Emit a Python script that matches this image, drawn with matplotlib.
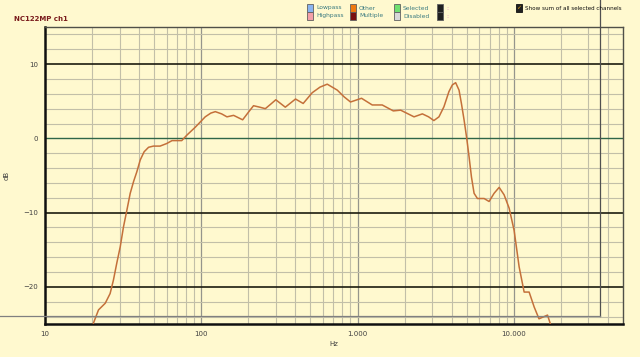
import matplotlib
matplotlib.use("Agg")
import matplotlib.pyplot as plt
from matplotlib.lines import Line2D
from matplotlib.patches import Rectangle

# response (Hz, dB)
freq_hz = [20.4, 22, 24.3, 26.1, 27.4, 28.8, 30.3, 31.8, 33.4, 35.1, 36.9, 38.7, 40.7, 43.1,
           46, 49.4, 54.5, 60, 65, 75, 81, 91.5, 106, 115, 123, 135, 146, 161, 184, 200, 216,
           237, 257, 278, 300, 345, 401, 449, 513, 575, 640, 742, 820, 902, 1061, 1242, 1439,
           1694, 1888, 2300, 2600, 2850, 3080, 3320, 3573, 3846, 4044, 4246, 4463, 4623, 4806,
           5000, 5176, 5360, 5572, 5853, 6456, 6950, 7480, 8060, 8670, 9340, 10050, 10820,
           11650, 12540, 13500, 14500, 16440, 17400]
level_db = [-24.9, -23.1, -22.2, -20.9, -19.1, -16.8, -14.6, -11.9, -9.7, -7.4, -5.8, -4.5,
            -2.9, -1.8, -1.2, -1.04, -1.04, -0.7, -0.3, -0.3, 0.45, 1.5, 2.9, 3.4, 3.6, 3.3,
            2.9, 3.1, 2.5, 3.5, 4.4, 4.2, 4.0, 4.6, 5.2, 4.2, 5.3, 4.7, 6.15, 6.9, 7.3, 6.5,
            5.6, 4.9, 5.4, 4.5, 4.5, 3.7, 3.8, 2.9, 3.3, 2.9, 2.4, 2.9, 4.26, 6.3, 7.2, 7.5,
            6.5, 4.7, 2.5, 0, -2.5, -5.2, -7.4, -8.1, -8.1, -8.5, -7.4, -6.6, -7.6, -9.4,
            -12.4, -17.3, -20.7, -20.7, -22.7, -24.3, -23.8, -25.4]

x_ticks = [10, 100, 1000, 10000]
x_tick_labels = ["10", "100", "1.000", "10.000"]
y_ticks = [-20, -10, 0, 10]

legend_items = [("Lowpass", "#8ab4f0"), ("Highpass", "#f4a0a8"), ("Other", "#f07a10"),
                ("Multiple", "#7a1010"), ("Selected", "#70e070"), ("Disabled", "#d8d8d8")]

BG = "#fff9cf"
GRID = "#c2bfa8"

fig = plt.figure(figsize=(6.4, 3.57), dpi=100, facecolor=BG)
ax = fig.add_axes([45 / 640, 33 / 357, 578 / 640, 297 / 357], facecolor=BG)
ax.set_xscale("log")
ax.set_xlim(10, 50000)
ax.set_ylim(-25, 15)

# grid
for dec in [10, 100, 1000, 10000]:
    for m in range(2, 10):
        f = dec * m
        if f < 50000:
            ax.axvline(f, color=GRID, lw=0.8, zorder=1)
for f in [100, 1000, 10000]:
    ax.axvline(f, color="#95958c", lw=0.9, zorder=1)
for v in range(-24, 15, 2):
    if v % 10 != 0:
        ax.axhline(v, color=GRID, lw=0.8, zorder=1)
for v in [-20, -10, 10]:
    ax.axhline(v, color="#1c1c10", lw=1.2, zorder=2)
ax.axhline(0, color="#2f6648", lw=1.0, zorder=2)

ax.plot(freq_hz, level_db, color="#c4703a", lw=1.1, zorder=3)

ax.set_xticks(x_ticks)
ax.set_xticklabels(x_tick_labels)
ax.set_xticks([], minor=True)
ax.set_yticks(y_ticks)
ax.tick_params(length=0, labelsize=5, colors="#404040", pad=5)
ax.set_xlabel("Hz", fontsize=5, color="#404040", labelpad=3)
ax.set_ylabel("dB", fontsize=5, color="#404040", labelpad=10)

for side in ["left", "bottom"]:
    ax.spines[side].set_linewidth(1.8)
    ax.spines[side].set_color("#101010")
for side in ["top", "right"]:
    ax.spines[side].set_linewidth(1.0)
    ax.spines[side].set_color("#505048")

# cursor cross lines
fig.add_artist(Line2D([600 / 640, 600 / 640], [1, 41 / 357], color="#505050", lw=0.9))
fig.add_artist(Line2D([0, 600 / 640], [41 / 357, 41 / 357], color="#808080", lw=0.9))

# title
fig.text(14 / 640, 1 - 19 / 357, "NC122MP ch1", fontsize=5, fontweight="bold",
         color="#7a1c1c", va="center")

# legend boxes
for i, (name, col) in enumerate(legend_items):
    col_i, row_i = divmod(i, 2)
    bx = [307, 350, 394][col_i]
    by = [8, 16][row_i]
    fig.add_artist(Rectangle((bx / 640, 1 - (by + 3.5) / 357), 6 / 640, 7 / 357,
                             facecolor=col, edgecolor="#606060", lw=0.6))
    fig.text((bx + 9) / 640, 1 - by / 357, name, fontsize=4.3, color="#3a7a80", va="center")
for by in [8, 16]:
    fig.add_artist(Rectangle((437 / 640, 1 - (by + 3.5) / 357), 6 / 640, 7 / 357,
                             facecolor="#202020", edgecolor="#606060", lw=0.6))
    fig.text(446 / 640, 1 - by / 357, ":", fontsize=4.3, color="#e070c0", va="center")

fig.add_artist(Rectangle((516 / 640, 1 - 11.5 / 357), 6 / 640, 7 / 357,
                         facecolor="#202020", edgecolor="#101010", lw=0.6))
fig.text(519 / 640, 1 - 8 / 357, "\u2713", fontsize=4.5, color="#e0a020", va="center", ha="center")
fig.text(525 / 640, 1 - 8 / 357, "Show sum of all selected channels", fontsize=4.1,
         color="#101010", va="center")

fig.savefig("out.png", dpi=100, facecolor=BG)
